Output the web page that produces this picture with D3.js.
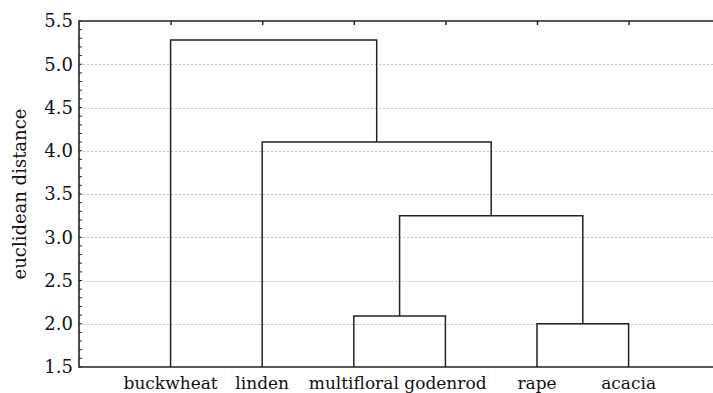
<!DOCTYPE html>
<html>
<head>
<meta charset="utf-8">
<script src="https://cdn.jsdelivr.net/npm/d3@7"></script>
<style>
  body { margin: 0; background: #fff; }
  svg { display: block; }
</style>
</head>
<body>
<div id="chart"></div>
<script>
// leaves, left to right
var leaves = ["buckwheat", "linden", "multifloral", "godenrod", "rape", "acacia"];
// merges: [left child, right child, height]; children are leaf names or earlier merge ids "m0".."m4"
var mergeLeft = ["multifloral", "rape", "m0", "linden", "buckwheat"];
var mergeRight = ["godenrod", "acacia", "m1", "m2", "m3"];
var mergeHeight = [2.09, 2.0, 3.25, 4.1, 5.28];
var yTicks = [1.5, 2.0, 2.5, 3.0, 3.5, 4.0, 4.5, 5.0, 5.5];

var margin = {top: 21, left: 79, bottom: 26},
    totalWidth = 713,
    totalHeight = 393,
    height = totalHeight - margin.top - margin.bottom;

var svg = d3.select("#chart").append("svg")
    .attr("width", totalWidth)
    .attr("height", totalHeight);

var font = "'DejaVu Serif', serif";

var x = d3.scaleLinear().domain([0, 7]).range([margin.left, margin.left + 7 * 91.6]);
var y = d3.scaleLinear().domain([1.5, 5.5]).range([margin.top + height, margin.top]);

// grid lines
svg.append("g")
  .selectAll("line")
  .data(yTicks.filter(function(d){ return d > 1.5 && d < 5.5; }))
  .enter().append("line")
    .attr("x1", margin.left).attr("x2", totalWidth)
    .attr("y1", function(d){ return Math.round(y(d)) + 0.5; })
    .attr("y2", function(d){ return Math.round(y(d)) + 0.5; })
    .attr("stroke", "#c4c4c4")
    .attr("stroke-width", 1)
    .attr("stroke-dasharray", "2,2");

// node positions
var pos = {};
leaves.forEach(function(name, i){ pos[name] = {x: x(i + 1), y: y(1.5)}; });
var links = [];
mergeHeight.forEach(function(h, i){
  var a = pos[mergeLeft[i]], b = pos[mergeRight[i]];
  var hy = y(h);
  links.push([[a.x, a.y], [a.x, hy], [b.x, hy], [b.x, b.y]]);
  pos["m" + i] = {x: (a.x + b.x) / 2, y: hy};
});

svg.append("g")
  .selectAll("path")
  .data(links)
  .enter().append("path")
    .attr("d", d3.line())
    .attr("fill", "none")
    .attr("stroke", "#222")
    .attr("stroke-width", 1.5);

// y axis with minor ticks inside
var yAxis = d3.axisLeft(y).tickValues(yTicks).tickFormat(d3.format(".1f")).tickSize(0).tickPadding(6);
var yg = svg.append("g")
    .attr("transform", "translate(" + margin.left + ",0)")
    .call(yAxis);
yg.select(".domain").remove();
yg.selectAll("text").attr("font-family", font).attr("font-size", 18).attr("fill", "#111");

svg.append("g")
  .selectAll("line")
  .data(d3.range(15, 56).map(function(d){ return d / 10; }))
  .enter().append("line")
    .attr("x1", margin.left).attr("x2", margin.left + 3)
    .attr("y1", function(d){ return y(d); })
    .attr("y2", function(d){ return y(d); })
    .attr("stroke", "#222")
    .attr("stroke-width", 1);

// top ticks at leaves
var xTop = d3.axisTop(x).tickValues(d3.range(1, 7)).tickSize(-4).tickFormat("");
var tg = svg.append("g")
    .attr("transform", "translate(0," + margin.top + ")")
    .call(xTop);
tg.select(".domain").remove();
tg.selectAll("line").attr("stroke", "#222").attr("stroke-width", 1.5);

// bottom labels
svg.append("g")
  .selectAll("text")
  .data(leaves)
  .enter().append("text")
    .attr("x", function(d, i){ return x(i + 1); })
    .attr("y", 389)
    .attr("text-anchor", "middle")
    .attr("font-family", font)
    .attr("font-size", 17)
    .attr("fill", "#111")
    .text(function(d){ return d; });

// frame
svg.append("path")
  .attr("d", "M" + totalWidth + "," + margin.top + "H" + margin.left + "V" + y(1.5) + "H" + totalWidth)
  .attr("fill", "none")
  .attr("stroke", "#222")
  .attr("stroke-width", 1.6);

// y title
svg.append("text")
  .attr("transform", "translate(26," + (margin.top + height / 2) + ") rotate(-90)")
  .attr("text-anchor", "middle")
  .attr("font-family", font)
  .attr("font-size", 18)
  .attr("fill", "#111")
  .text("euclidean distance");
</script>
</body>
</html>
